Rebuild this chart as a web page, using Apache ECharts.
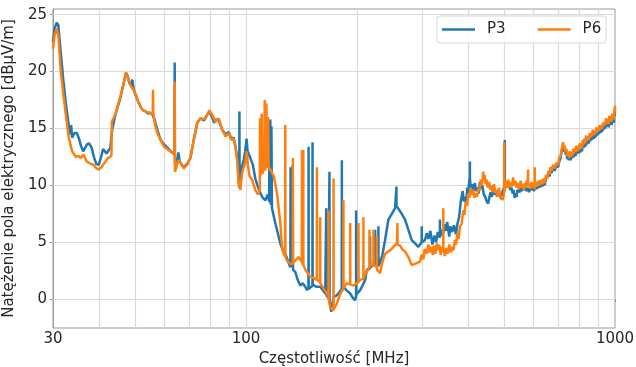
<!DOCTYPE html>
<html><head><meta charset="utf-8">
<script src="https://cdn.jsdelivr.net/npm/echarts@6/dist/echarts.min.js"></script>
<style>html,body{margin:0;padding:0;background:#fff}#c{width:636px;height:367px}</style>
</head><body><div id="c"></div>
<script>
const seriesNames = ['P3', 'P6'];
const xTickLabels = [30, 100, 1000];
const xTickMarks = [30, 40, 50, 60, 70, 80, 90, 100, 200, 300, 400, 500, 600, 700, 800, 900, 1000];
const xGridValues = [40, 50, 60, 70, 80, 90, 100, 200, 300, 400, 500, 600, 700, 800, 900];
const yTickLabels = [0, 5, 10, 15, 20, 25];

// [frequency MHz, level dBµV/m]
const p3 = [
[30.0,22.6],[30.3,23.8],[30.7,24.3],[31.0,24.1],[31.5,21.6],[32.0,19.2],[32.5,17.2],[33.0,15.6],[33.4,14.5],[33.6,15.3],
[33.8,14.2],[34.3,14.6],[34.8,14.6],[35.3,14.1],[35.7,13.5],[36.2,13.0],[36.6,13.1],[37.1,13.6],[37.6,13.7],[38.2,13.3],
[38.7,12.5],[39.3,11.9],[39.9,11.8],[40.5,12.5],[41.0,13.2],[41.5,13.1],[41.9,12.8],[42.4,12.9],[42.9,13.3],[43.4,14.9],
[44.2,16.1],[45.0,17.0],[45.6,17.6],[46.5,18.8],[47.3,19.9],[47.8,19.6],[48.3,19.0],[48.8,18.8],[49.2,19.3],[49.6,18.5],
[50.0,18.1],[51.0,17.4],[52.0,16.8],[52.6,16.6],[53.5,16.5],[54.3,16.3],[55.0,16.4],[55.8,16.2],[56.5,15.8],[57.5,14.9],
[58.7,14.0],[60.0,13.6],[61.7,13.2],[63.0,12.9],[64.0,12.7],[64.1,20.8],[64.2,12.0],[64.6,11.9],[65.2,12.3],[65.6,12.9],
[66.1,12.1],[67.0,11.8],[67.8,11.6],[69.3,11.9],[70.7,12.4],[72.2,14.0],[73.8,15.5],[75.3,15.9],[76.9,15.7],[78.5,16.2],
[79.6,16.5],[81.0,16.0],[82.0,15.5],[82.7,15.8],[84.4,15.7],[86.2,14.9],[88.0,14.5],[89.8,14.7],[91.3,14.1],[92.6,14.2],
[93.6,13.5],[94.8,12.3],[95.6,10.3],[95.9,9.8],[96.0,16.5],[96.1,10.2],[97.0,11.4],[98.6,12.2],[99.5,13.0],[100.4,14.1],
[101.0,13.0],[102.8,12.4],[104.4,11.8],[106.0,10.6],[107.7,9.9],[109.4,9.3],[111.1,8.9],[112.9,8.7],[114.6,9.2],[115.6,8.6],
[115.8,15.6],[116.1,8.5],[116.4,15.8],[116.8,8.3],[117.2,15.2],[117.6,8.0],[120.1,6.7],[122.0,5.8],[123.9,4.9],[125.8,4.3],
[127.8,4.0],[129.8,3.4],[131.9,2.8],[132.1,11.6],[132.4,2.9],[133.6,3.0],[133.8,11.8],[134.1,2.6],[136.0,2.4],[138.1,1.7],
[140.3,1.2],[142.5,1.4],[144.8,1.1],[146.3,0.8],[147.7,1.0],[147.8,13.4],[147.9,0.9],[149.3,1.0],[151.4,1.2],[151.5,13.8],
[151.6,1.3],[152.5,1.4],[155.0,1.1],[158.9,1.1],[161.5,0.8],[164.0,0.5],[165.0,8.0],[165.1,0.4],[167.0,0.1],[168.3,0.0],
[168.4,11.2],[168.5,-0.1],[170.2,-1.1],[172.7,0.2],[175.5,0.3],[178.1,0.5],[181.8,0.9],[181.9,12.2],[182.0,0.9],[183.7,1.1],
[187.0,0.8],[191.6,0.5],[195.0,0.1],[197.6,-0.1],[198.8,0.3],[198.9,7.8],[199.0,0.4],[203.9,0.8],[207.0,1.2],[210.4,1.7],
[212.6,2.6],[216.8,2.7],[217.0,5.5],[217.2,2.8],[220.0,3.0],[223.8,3.0],[223.9,6.1],[224.0,3.1],[228.4,3.0],[228.5,6.4],
[228.6,2.9],[230.9,2.8],[234.0,3.8],[238.2,5.2],[243.2,7.0],[248.4,7.5],[253.6,8.0],[255.6,8.1],[255.7,9.9],[255.8,8.2],
[258.8,8.1],[264.4,7.5],[269.8,7.0],[275.5,6.1],[281.3,5.2],[287.2,4.9],[293.2,4.6],[299.3,5.0],[299.5,6.4],[299.7,5.0],
[305.6,5.2],[309.0,5.8],[312.1,5.3],[316.0,6.0],[320.0,4.8],[324.0,5.6],[327.4,5.0],[331.0,5.9],[335.3,5.4],[335.5,7.0],
[335.7,5.5],[338.0,6.1],[341.5,5.6],[345.0,6.6],[348.0,6.0],[351.0,6.8],[355.5,5.5],[358.0,6.4],[362.0,5.9],[366.0,6.5],
[370.8,5.7],[374.0,6.6],[378.0,7.2],[382.0,8.6],[386.7,9.5],[389.0,8.6],[392.0,9.0],[395.0,8.4],[398.0,9.8],[400.0,9.3],
[402.9,10.4],[404.3,10.8],[404.4,12.1],[404.5,10.6],[407.0,9.7],[410.0,10.1],[413.0,9.6],[417.2,10.2],[420.0,9.5],[423.0,9.8],
[427.0,9.3],[430.3,10.3],[434.0,9.7],[437.0,10.0],[441.0,9.2],[445.0,9.0],[449.0,8.6],[453.3,8.4],[457.0,9.0],[460.0,9.4],
[464.0,9.0],[467.0,9.7],[471.0,9.2],[475.0,9.5],[479.0,9.0],[482.0,9.6],[486.0,9.1],[490.0,9.2],[493.0,8.8],[496.0,9.5],
[500.0,9.6],[502.6,10.0],[502.8,14.0],[503.0,10.2],[508.0,9.8],[511.0,10.3],[514.0,9.9],[517.0,10.1],[520.0,9.6],[524.0,9.8],
[528.0,9.3],[531.0,9.6],[535.0,8.9],[538.0,9.3],[541.1,9.0],[544.0,9.6],[548.0,9.7],[552.0,9.4],[556.0,9.8],[560.0,9.5],
[563.0,10.0],[567.0,9.6],[572.0,9.8],[576.0,9.5],[581.6,9.8],[585.0,9.4],[590.0,9.8],[594.0,9.6],[598.0,10.0],[602.0,9.5],
[606.0,9.6],[610.0,9.9],[615.0,9.7],[620.0,10.1],[625.0,9.8],[630.0,10.2],[635.0,9.9],[640.0,10.3],[645.1,10.0],[650.0,10.6],
[655.0,10.5],[660.0,11.0],[665.0,10.8],[669.0,11.3],[673.0,11.1],[680.0,11.6],[687.0,11.3],[694.0,11.8],[701.0,11.6],[706.0,12.1],
[712.0,12.4],[717.0,13.0],[723.4,13.5],[727.0,13.0],[731.0,13.2],[735.0,12.7],[739.0,12.9],[742.0,12.3],[746.0,12.6],[750.0,12.2],
[754.0,12.7],[758.0,12.2],[762.0,12.6],[766.0,12.4],[770.0,12.9],[774.0,12.5],[778.0,13.0],[782.0,12.6],[786.0,13.2],[790.0,12.8],
[794.0,13.1],[798.0,12.8],[802.0,13.4],[806.0,12.9],[810.0,13.3],[814.0,13.0],[818.0,13.7],[822.0,13.3],[827.0,13.8],[831.0,13.4],
[835.0,14.1],[839.0,13.6],[844.0,14.0],[849.0,13.7],[854.0,14.3],[858.0,13.9],[862.0,14.3],[866.0,14.0],[870.0,14.6],[875.0,14.1],
[880.0,14.5],[885.0,14.2],[890.0,14.8],[895.0,14.4],[900.0,14.7],[904.0,14.5],[908.0,15.0],[913.0,14.6],[918.0,15.0],[923.0,14.7],
[928.0,15.2],[932.0,14.9],[937.0,15.3],[941.0,15.0],[946.0,15.6],[951.0,15.2],[956.0,15.5],[961.0,15.1],[966.0,15.8],[970.0,15.4],
[975.0,15.7],[979.0,15.3],[983.0,16.0],[987.0,15.6],[990.0,15.9],[993.0,15.5],[996.0,16.4],[998.0,16.1],[1000.0,16.8]
];

const p6 = [
[30.0,22.0],[30.3,23.2],[30.7,23.8],[31.0,23.2],[31.5,20.0],[32.0,18.0],[32.5,16.2],[33.1,14.2],[33.8,13.0],[34.6,12.5],
[35.2,12.6],[35.6,12.4],[36.3,12.7],[37.0,12.1],[37.9,11.9],[38.7,11.8],[39.3,11.5],[39.9,11.4],[40.6,11.6],[41.2,11.9],
[42.3,12.4],[43.2,12.6],[43.3,15.6],[44.2,16.2],[45.6,17.7],[46.5,18.8],[47.3,19.9],[48.0,19.4],[48.6,18.8],[50.0,18.2],
[51.0,17.4],[52.0,16.8],[52.6,16.6],[53.4,16.5],[54.5,16.4],[55.9,16.3],[56.0,18.4],[56.1,16.3],[56.8,15.2],[57.7,14.5],
[58.7,14.0],[60.0,13.4],[61.7,13.1],[63.0,12.9],[64.0,12.7],[64.1,19.1],[64.2,11.2],[64.8,11.6],[65.5,12.2],[66.5,12.0],
[67.8,11.5],[69.3,11.8],[70.7,12.4],[72.2,14.0],[73.8,15.5],[75.3,15.9],[76.9,15.8],[78.5,16.2],[79.6,16.6],[81.0,16.2],
[82.7,15.6],[84.4,15.9],[86.2,14.9],[88.0,14.3],[89.8,14.6],[91.3,14.0],[92.6,14.1],[93.6,13.4],[94.8,12.0],[95.6,10.2],
[96.6,9.6],[97.5,11.0],[98.6,11.6],[99.5,11.9],[100.4,13.0],[101.5,11.5],[102.3,10.8],[103.9,10.5],[106.0,9.6],[107.7,9.2],
[109.0,9.6],[109.2,15.9],[109.5,10.8],[110.3,16.3],[110.8,11.0],[112.2,12.0],[112.4,17.5],[112.8,11.3],[113.6,17.2],[114.0,11.5],
[114.8,16.0],[115.2,11.6],[116.4,11.4],[118.9,10.8],[121.4,9.3],[123.9,6.7],[125.2,4.6],[126.5,4.0],[127.7,3.8],[127.8,15.3],
[127.9,3.7],[129.1,3.4],[131.9,3.1],[133.9,3.1],[134.0,12.4],[134.1,3.2],[136.0,3.4],[138.8,3.7],[141.7,3.3],[141.8,13.1],
[141.9,3.2],[142.9,3.0],[143.0,13.1],[143.1,3.0],[144.8,2.6],[147.0,2.3],[149.3,2.0],[152.0,1.9],[155.6,1.7],[155.7,11.6],
[155.8,1.7],[158.8,1.5],[158.9,7.2],[159.0,1.4],[162.0,1.0],[165.7,0.5],[167.3,0.2],[167.4,7.8],[167.5,0.1],[169.1,-0.7],
[172.6,-1.0],[172.7,10.6],[172.8,-0.9],[176.3,-0.4],[180.1,0.5],[183.6,0.9],[183.7,8.7],[183.8,1.0],[187.7,1.4],[191.5,1.3],
[191.6,6.7],[191.7,1.3],[195.6,1.2],[201.7,1.5],[201.8,6.7],[201.9,1.5],[203.9,1.7],[208.0,1.8],[208.1,7.2],[208.2,1.9],
[210.4,2.0],[216.0,2.8],[216.1,6.1],[216.2,2.9],[217.0,3.1],[221.5,3.0],[221.6,6.1],[221.7,3.0],[226.2,2.8],[226.3,5.5],
[226.4,2.6],[230.9,2.3],[234.0,3.2],[238.2,4.0],[245.8,4.3],[251.0,4.6],[256.4,4.9],[257.2,4.9],[257.3,6.7],[257.4,4.8],
[261.6,4.7],[265.0,4.4],[269.8,4.2],[275.5,3.7],[281.3,3.0],[287.2,3.1],[296.2,3.3],[299.0,3.9],[302.5,3.5],[305.0,4.4],
[309.0,4.0],[312.0,4.8],[315.0,4.1],[318.0,4.6],[320.8,3.9],[323.0,4.7],[326.0,4.0],[329.0,4.9],[331.0,4.3],[334.0,4.8],
[337.0,3.9],[340.0,4.6],[342.5,4.3],[342.6,8.0],[342.7,4.4],[346.0,3.8],[349.0,4.5],[352.0,4.0],[355.5,4.8],[359.0,4.1],
[362.0,4.6],[365.0,4.3],[368.3,5.2],[371.0,4.8],[374.0,5.8],[377.0,5.3],[380.0,6.4],[384.0,6.6],[388.0,7.8],[391.0,7.4],
[394.0,8.6],[397.0,8.2],[400.5,9.3],[403.0,8.9],[406.0,9.8],[409.0,9.2],[413.1,9.6],[416.0,8.9],[420.0,9.3],[423.0,9.0],
[426.0,9.7],[429.0,9.5],[433.0,10.5],[436.0,10.0],[439.5,11.2],[442.0,10.5],[444.0,10.9],[446.0,10.1],[448.9,10.5],[452.0,9.8],
[456.0,10.3],[459.0,9.6],[463.0,10.0],[466.0,9.4],[470.0,10.1],[474.0,9.3],[477.7,9.6],[481.0,9.0],[485.0,9.8],[489.0,8.9],
[492.9,9.1],[496.0,8.7],[500.8,9.4],[501.0,13.8],[501.2,9.4],[504.0,9.9],[507.0,10.4],[510.0,9.8],[513.5,10.5],[517.0,9.8],
[520.0,10.3],[525.0,9.9],[529.8,10.7],[533.0,10.0],[537.0,10.4],[541.0,9.8],[546.4,10.2],[550.0,9.7],[555.0,10.4],[559.0,9.8],
[563.0,10.1],[566.0,9.6],[569.5,10.2],[573.0,9.8],[576.0,10.4],[579.0,9.9],[581.5,10.0],[581.6,11.4],[581.7,10.0],[586.0,10.2],
[590.0,9.7],[594.0,10.3],[597.0,9.8],[601.0,10.2],[605.9,9.7],[606.0,11.6],[606.1,9.8],[610.0,10.3],[615.0,9.9],[620.0,10.4],
[625.0,10.0],[630.0,10.5],[635.0,10.1],[640.0,10.6],[645.1,10.2],[650.0,10.9],[655.0,10.6],[660.0,11.3],[665.0,11.0],[669.0,11.6],
[673.0,11.3],[680.0,11.8],[687.0,11.5],[694.0,12.0],[701.0,11.8],[706.0,12.4],[712.0,12.6],[717.0,13.2],[723.4,13.8],[727.0,13.2],
[731.0,13.5],[735.0,12.9],[739.0,13.2],[742.0,12.6],[746.0,12.9],[750.0,12.4],[754.0,13.0],[758.0,12.5],[762.0,12.9],[766.0,12.6],
[770.0,13.2],[774.0,12.8],[778.0,13.3],[782.0,12.9],[786.0,13.5],[790.0,13.0],[794.0,13.4],[798.0,13.1],[802.0,13.7],[806.0,13.2],
[810.0,13.6],[814.0,13.3],[818.0,14.0],[822.0,13.6],[827.0,14.1],[831.0,13.7],[835.0,14.4],[839.0,13.9],[844.0,14.3],[849.0,14.0],
[854.0,14.6],[858.0,14.2],[862.0,14.6],[866.0,14.3],[870.0,14.9],[875.0,14.4],[880.0,14.8],[885.0,14.5],[890.0,15.1],[895.0,14.7],
[900.0,15.0],[904.0,14.8],[908.0,15.3],[913.0,14.9],[918.0,15.3],[923.0,15.0],[928.0,15.5],[932.0,15.2],[937.0,15.6],[941.0,15.3],
[946.0,15.9],[951.0,15.5],[956.0,15.8],[961.0,15.4],[966.0,16.1],[970.0,15.7],[975.0,16.0],[979.0,15.6],[983.0,16.3],[987.0,15.9],
[990.0,16.2],[993.0,15.8],[996.0,16.6],[998.0,16.4],[1000.0,17.0]
];

const font = 'DejaVu Sans';
const textColor = '#262626';
const spineColor = '#9a9a9a';
const gridStyle = { color: '#dadada', width: 1.2, type: 'solid' };

const chart = echarts.init(document.getElementById('c'), null, { renderer: 'canvas' });
chart.setOption({
  animation: false,
  grid: { left: 53, right: 21, top: 9, bottom: 39, show: true, borderColor: spineColor, borderWidth: 1,
          containLabel: false, outerBoundsMode: 'none' },
  legend: {
    data: seriesNames, left: 437, top: 16, orient: 'horizontal', icon: 'rect',
    itemWidth: 33, itemHeight: 2.5, itemGap: 32, padding: [6, 5, 6, 5],
    backgroundColor: 'rgba(255,255,255,0.85)', borderColor: '#d6d6d6', borderWidth: 1, borderRadius: 3,
    textStyle: { fontFamily: font, fontSize: 15, color: textColor, padding: [0, 0, 0, 7] }
  },
  xAxis: {
    type: 'log', logBase: 10, min: 29.999, max: 1000.01,
    name: 'Częstotliwość [MHz]', nameLocation: 'middle', nameGap: 20,
    nameTextStyle: { fontFamily: font, fontSize: 15, color: textColor },
    axisLine: { show: true, lineStyle: { color: spineColor, width: 1 } },
    axisTick: { show: true, customValues: xTickMarks, length: 3, lineStyle: { color: spineColor } },
    axisLabel: { customValues: xTickLabels, fontFamily: font, fontSize: 15, color: textColor, margin: 4,
      formatter: v => String(Math.round(v)) },
    splitLine: { show: false }, minorTick: { show: false }, minorSplitLine: { show: false }
  },
  yAxis: {
    type: 'value', min: -2.53, max: 25.5,
    name: 'Natężenie pola elektrycznego [dBμV/m]', nameLocation: 'middle', nameGap: 29, nameRotate: 90,
    nameTextStyle: { fontFamily: font, fontSize: 15, color: textColor },
    axisLine: { show: true, lineStyle: { color: spineColor, width: 1 } },
    axisTick: { show: true, customValues: yTickLabels, length: 3, lineStyle: { color: spineColor } },
    axisLabel: { customValues: yTickLabels, fontFamily: font, fontSize: 15, color: textColor, margin: 6 },
    splitLine: { show: false }
  },
  series: [
    {
      name: seriesNames[0], type: 'line', data: p3, symbol: 'none', showSymbol: false, silent: true,
      lineStyle: { width: 2.5, color: '#1f77b4' }, itemStyle: { color: '#1f77b4' }, emphasis: { disabled: true },
      markLine: {
        silent: true, z: 1, symbol: ['none', 'none'], label: { show: false }, lineStyle: gridStyle,
        emphasis: { disabled: true }, animation: false,
        data: xGridValues.map(v => ({ xAxis: v })).concat(yTickLabels.map(v => ({ yAxis: v })))
      }
    },
    {
      name: seriesNames[1], type: 'line', data: p6, symbol: 'none', showSymbol: false, silent: true,
      lineStyle: { width: 2.5, color: '#ff7f0e' }, itemStyle: { color: '#ff7f0e' }, emphasis: { disabled: true }
    }
  ]
});
</script>
</body></html>
